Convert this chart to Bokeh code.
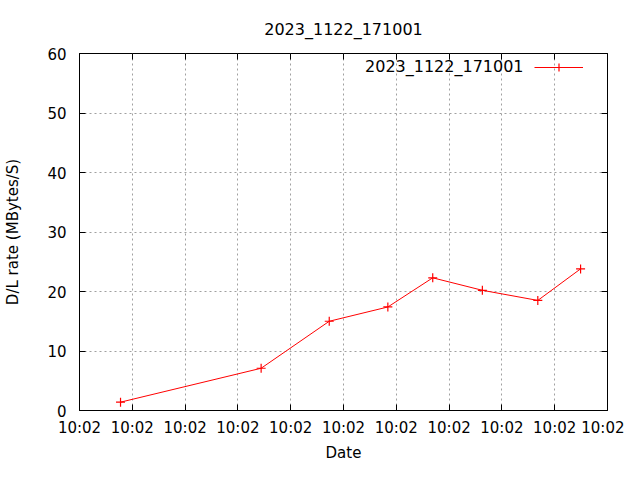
from bokeh.plotting import figure
from bokeh.models import (LinearAxis, FixedTicker, Legend, LegendItem, Label,
                          ColumnDataSource, Range1d)
from bokeh.embed import file_html
from bokeh.resources import INLINE

# ---- data ----
series_name = "2023_1122_171001"
seconds = [0.777, 3.44, 4.73, 5.84, 6.69, 7.63, 8.68, 9.49]   # seconds after 10:02:00
rates = [1.4, 7.1, 15.0, 17.4, 22.3, 20.2, 18.5, 23.8]
x_ticks = [0, 1, 2, 3, 4, 5, 6, 7, 8, 9, 10]
x_tick_labels = ["10:02"] * 11
y_ticks = [0, 10, 20, 30, 40, 50, 60]

FONT = "DejaVu Sans"
FS = "15px"
FS_BIG = "16px"

p = figure(width=624, height=464, output_backend="svg", toolbar_location=None,
           x_range=Range1d(0, 10), y_range=Range1d(0, 60),
           min_border_left=79, min_border_right=17, min_border_top=53,
           min_border_bottom=52, title=series_name)

p.title.align = "center"
p.title.text_font = FONT
p.title.text_font_size = FS_BIG
p.title.text_font_style = "normal"
p.title.text_color = "black"
p.title.standoff = 29

p.outline_line_color = "black"
p.outline_line_width = 1
p.outline_line_alpha = 1
p.background_fill_color = "white"
p.border_fill_color = "white"

src = ColumnDataSource(dict(x=seconds, y=rates))
r_line = p.line("x", "y", source=src, line_color="#ff0000", line_width=1)
r_pts = p.scatter("x", "y", source=src, marker="cross", size=9,
                  line_color="#ff0000", line_width=1.2)

# axes
xa = p.xaxis[0]
xa.ticker = FixedTicker(ticks=x_ticks)
xa.major_label_overrides = {t: l for t, l in zip(x_ticks, x_tick_labels)}
xa.axis_label = "Date"
ya = p.yaxis[0]
ya.ticker = FixedTicker(ticks=y_ticks)
ya.axis_label = "D/L rate (MBytes/S)"

for ax in (xa, ya):
    ax.major_tick_in = 6
    ax.major_tick_out = 0
    ax.minor_tick_in = 0
    ax.minor_tick_out = 0
    ax.major_tick_line_color = "black"
    ax.axis_line_color = "black"
    ax.major_label_text_font = FONT
    ax.major_label_text_font_size = FS
    ax.major_label_text_color = "black"
    ax.axis_label_text_font = FONT
    ax.axis_label_text_font_size = FS
    ax.axis_label_text_font_style = "normal"
    ax.axis_label_text_color = "black"

xa.major_label_standoff = 8
xa.axis_label_standoff = 4
ya.major_label_standoff = 13
ya.axis_label_standoff = 22

# mirror ticks (top / right), no labels
top = LinearAxis(ticker=FixedTicker(ticks=x_ticks),
                 major_label_overrides={t: "" for t in x_ticks},
                 major_tick_in=6, major_tick_out=0, minor_tick_in=0, minor_tick_out=0,
                 axis_line_color=None, major_label_standoff=0)
right = LinearAxis(ticker=FixedTicker(ticks=y_ticks),
                   major_label_overrides={t: "" for t in y_ticks},
                   major_tick_in=6, major_tick_out=0, minor_tick_in=0, minor_tick_out=0,
                   axis_line_color=None, major_label_standoff=0)
p.add_layout(top, "above")
p.add_layout(right, "right")

# grid
for g in (p.xgrid[0], p.ygrid[0]):
    g.grid_line_color = "#a0a0a0"
    g.grid_line_dash = "2 3"
    g.grid_line_width = 1
p.xgrid[0].ticker = FixedTicker(ticks=x_ticks[1:-1])
p.ygrid[0].ticker = FixedTicker(ticks=y_ticks[1:-1])

# legend (gnuplot style: text on the left, sample on the right)
legend = Legend(items=[LegendItem(label=" ", renderers=[r_line, r_pts])],
                location=(455, 333), padding=0, margin=0, spacing=0,
                label_standoff=0, glyph_width=49, glyph_height=20,
                label_height=20, label_width=0, label_text_font_size="1px",
                border_line_color=None, background_fill_alpha=0)
p.add_layout(legend, "center")
p.add_layout(Label(x=8.41, y=57.83, text=series_name, text_align="right",
                   text_baseline="middle", text_font=FONT, text_font_size=FS_BIG,
                   text_color="black"))

open("out.html", "w").write(file_html(p, INLINE))
